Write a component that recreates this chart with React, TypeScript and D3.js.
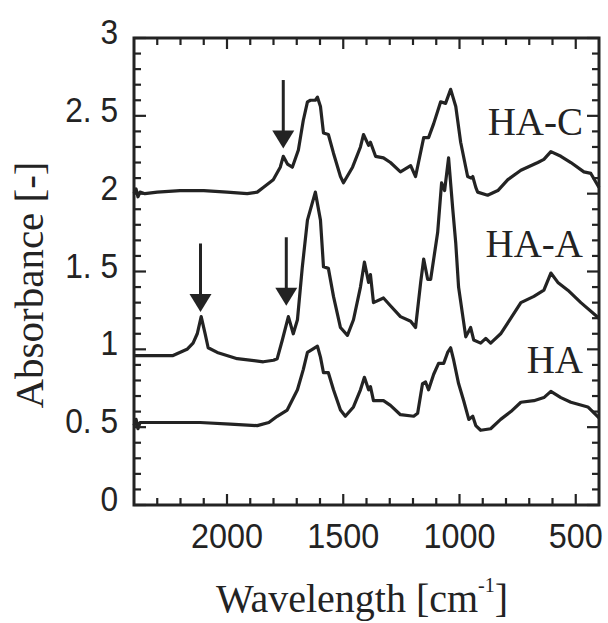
import React from "react";
import * as d3 from "d3";

// HA-C (top spectrum)
const hacWave = [2400, 2391, 2383, 2374, 2353, 2300, 2202, 2100, 2000, 1913, 1870, 1844, 1801, 1771, 1758, 1740, 1719, 1693, 1672, 1654, 1641, 1620, 1611, 1598, 1585, 1564, 1542, 1512, 1499, 1460, 1426, 1413, 1391, 1383, 1361, 1327, 1297, 1254, 1210, 1189, 1154, 1133, 1111, 1081, 1060, 1038, 1016, 995, 965, 950, 943, 930, 922, 879, 835, 792, 736, 663, 637, 607, 564, 521, 465, 435, 400];
const hacAbs = [2.0, 2.03, 1.98, 2.01, 2.0, 2.01, 2.02, 2.02, 2.01, 2.0, 2.01, 2.04, 2.09, 2.17, 2.24, 2.19, 2.17, 2.28, 2.47, 2.59, 2.6, 2.6, 2.62, 2.56, 2.39, 2.38, 2.26, 2.11, 2.07, 2.17, 2.3, 2.38, 2.31, 2.33, 2.24, 2.23, 2.2, 2.14, 2.18, 2.11, 2.36, 2.36, 2.45, 2.59, 2.58, 2.67, 2.56, 2.33, 2.11, 2.1, 2.11, 2.04, 2.01, 1.99, 2.02, 2.09, 2.15, 2.2, 2.22, 2.27, 2.24, 2.2, 2.14, 2.13, 2.04];

// HA-A (middle spectrum)
const haaWave = [2400, 2300, 2232, 2172, 2146, 2128, 2111, 2094, 2081, 2042, 1956, 1844, 1800, 1784, 1762, 1736, 1715, 1697, 1676, 1654, 1620, 1598, 1585, 1564, 1542, 1512, 1482, 1456, 1426, 1409, 1391, 1383, 1370, 1327, 1297, 1254, 1210, 1189, 1167, 1154, 1137, 1124, 1094, 1077, 1064, 1047, 1029, 1016, 1004, 973, 952, 939, 909, 887, 866, 823, 779, 736, 680, 637, 607, 577, 534, 478, 400];
const haaAbs = [0.96, 0.96, 0.96, 1.0, 1.04, 1.1, 1.21, 1.1, 1.01, 0.98, 0.94, 0.92, 0.93, 0.94, 1.06, 1.21, 1.1, 1.19, 1.53, 1.83, 2.01, 1.83, 1.53, 1.52, 1.34, 1.14, 1.09, 1.19, 1.4, 1.56, 1.43, 1.48, 1.3, 1.33, 1.28, 1.21, 1.18, 1.14, 1.43, 1.58, 1.45, 1.45, 1.75, 2.07, 2.02, 2.23, 1.9, 1.68, 1.4, 1.08, 1.14, 1.06, 1.04, 1.07, 1.04, 1.1, 1.2, 1.3, 1.34, 1.38, 1.49, 1.43, 1.38, 1.3, 1.2];

// HA (bottom spectrum)
const haWave = [2400, 2391, 2383, 2374, 2301, 2200, 2116, 1986, 1870, 1820, 1784, 1741, 1697, 1672, 1654, 1633, 1611, 1598, 1585, 1564, 1542, 1512, 1491, 1456, 1426, 1409, 1391, 1383, 1370, 1327, 1297, 1254, 1197, 1180, 1159, 1146, 1133, 1111, 1090, 1068, 1051, 1038, 1025, 1004, 982, 960, 943, 930, 909, 866, 823, 779, 736, 680, 637, 607, 564, 521, 448, 400];
const haAbs = [0.51, 0.55, 0.49, 0.53, 0.53, 0.53, 0.53, 0.52, 0.51, 0.53, 0.57, 0.61, 0.74, 0.87, 0.98, 1.0, 1.02, 0.95, 0.85, 0.85, 0.74, 0.61, 0.57, 0.63, 0.74, 0.82, 0.74, 0.76, 0.67, 0.67, 0.64, 0.58, 0.57, 0.59, 0.78, 0.79, 0.74, 0.84, 0.91, 0.91, 0.98, 1.01, 0.93, 0.78, 0.67, 0.55, 0.57, 0.51, 0.48, 0.49, 0.55, 0.6, 0.66, 0.67, 0.69, 0.73, 0.69, 0.66, 0.63, 0.56];

const seriesNames = ["HA-C", "HA-A", "HA"];
const seriesLabelAbs = [2.38, 1.59, 0.85];

// arrows marking new peaks
const arrowWave = [1758, 2114, 1745];
const arrowTopAbs = [2.73, 1.68, 1.72];
const arrowTipAbs = [2.29, 1.24, 1.28];

const xMajorTicks = [2000, 1500, 1000, 500];
const xTickLabels = ["2000", "1500", "1000", "500"];
const yMajorTicks = [0, 0.5, 1, 1.5, 2, 2.5, 3];
const yTickLabels = ["0", "0. 5", "1", "1. 5", "2", "2. 5", "3"];

export default function App() {
  const W = 608, H = 623;
  const left = 134, right = 599, top = 38, bottom = 505;
  const x = d3.scaleLinear().domain([2400, 400]).range([left, right]);
  const y = d3.scaleLinear().domain([0, 3]).range([bottom, top]);
  const ink = "#232323";

  const line = d3.line<[number, number]>().x(d => x(d[0])).y(d => y(d[1])).curve(d3.curveLinear);
  const series = [
    d3.zip(hacWave, hacAbs) as [number, number][],
    d3.zip(haaWave, haaAbs) as [number, number][],
    d3.zip(haWave, haAbs) as [number, number][],
  ];

  const xMinor = d3.range(500, 2400, 100).filter(v => v % 500 !== 0);
  const yMinor = d3.range(1, 30).map(v => v / 10).filter(v => Math.round(v * 10) % 5 !== 0);
  const maj = 11, min = 7;

  const serif = "'Liberation Serif', 'Times New Roman', serif";
  const sans = "'Liberation Sans', Arial, sans-serif";

  return (
    <svg width={W} height={H} style={{ position: "absolute", left: 0, top: 0, background: "#fff" }}>
      <rect x={0} y={0} width={W} height={H} fill="#fff" />
      {/* ticks */}
      <g stroke={ink} strokeWidth={2.2}>
        {xMinor.map(v => (
          <g key={"xm" + v}>
            <line x1={x(v)} x2={x(v)} y1={bottom} y2={bottom - min} />
            <line x1={x(v)} x2={x(v)} y1={top} y2={top + min} />
          </g>
        ))}
        {xMajorTicks.map(v => (
          <g key={"xM" + v}>
            <line x1={x(v)} x2={x(v)} y1={bottom} y2={bottom - maj} />
            <line x1={x(v)} x2={x(v)} y1={top} y2={top + maj} />
          </g>
        ))}
        {yMinor.map(v => (
          <g key={"ym" + v}>
            <line x1={left} x2={left + min} y1={y(v)} y2={y(v)} />
            <line x1={right} x2={right - min} y1={y(v)} y2={y(v)} />
          </g>
        ))}
        {yMajorTicks.map(v => (
          <g key={"yM" + v}>
            <line x1={left} x2={left + maj + 1} y1={y(v)} y2={y(v)} />
            <line x1={right} x2={right - maj - 1} y1={y(v)} y2={y(v)} />
          </g>
        ))}
      </g>
      {/* spectra */}
      {series.map((s, i) => (
        <path key={"s" + i} d={line(s) || ""} fill="none" stroke={ink} strokeWidth={3.2} strokeLinejoin="round" />
      ))}
      {/* frame */}
      <rect x={left} y={top} width={right - left} height={bottom - top} fill="none" stroke={ink} strokeWidth={3} />
      {/* arrows */}
      {arrowWave.map((w, i) => {
        const ax = x(w);
        const yt = y(arrowTopAbs[i]);
        const yp = y(arrowTipAbs[i]);
        const hh = 18, hw = 11;
        return (
          <g key={"a" + i}>
            <line x1={ax} x2={ax} y1={yt} y2={yp - hh + 2} stroke={ink} strokeWidth={3} />
            <path d={`M${ax - hw},${yp - hh} L${ax + hw},${yp - hh} L${ax},${yp} Z`} fill={ink} />
          </g>
        );
      })}
      {/* series labels */}
      {seriesNames.map((n, i) => (
        <text key={"n" + i} x={583} y={y(seriesLabelAbs[i])} textAnchor="end" fontFamily={serif} fontSize={39} fill={ink}>{n}</text>
      ))}
      {/* y tick labels */}
      {yMajorTicks.map((v, i) => (
        <text key={"yl" + v} transform={`translate(118,${y(v) + 6}) scale(0.88,1)`} textAnchor="end" fontFamily={sans} fontSize={36} fill={ink}>{yTickLabels[i]}</text>
      ))}
      {/* x tick labels */}
      {xMajorTicks.map((v, i) => (
        <text key={"xl" + v} transform={`translate(${x(v)},548) scale(0.9,1)`} textAnchor="middle" fontFamily={sans} fontSize={36} fill={ink}>{xTickLabels[i]}</text>
      ))}
      {/* axis titles */}
      <text x={362} y={612} textAnchor="middle" fontFamily={serif} fontSize={40} fill={ink}>
        Wavelength [cm<tspan fontSize={20} dy={-20}>-1</tspan><tspan dy={20}>]</tspan>
      </text>
      <text transform={`translate(43,285) rotate(-90)`} textAnchor="middle" fontFamily={serif} fontSize={41} fill={ink}>Absorbance [-]</text>
    </svg>
  );
}
